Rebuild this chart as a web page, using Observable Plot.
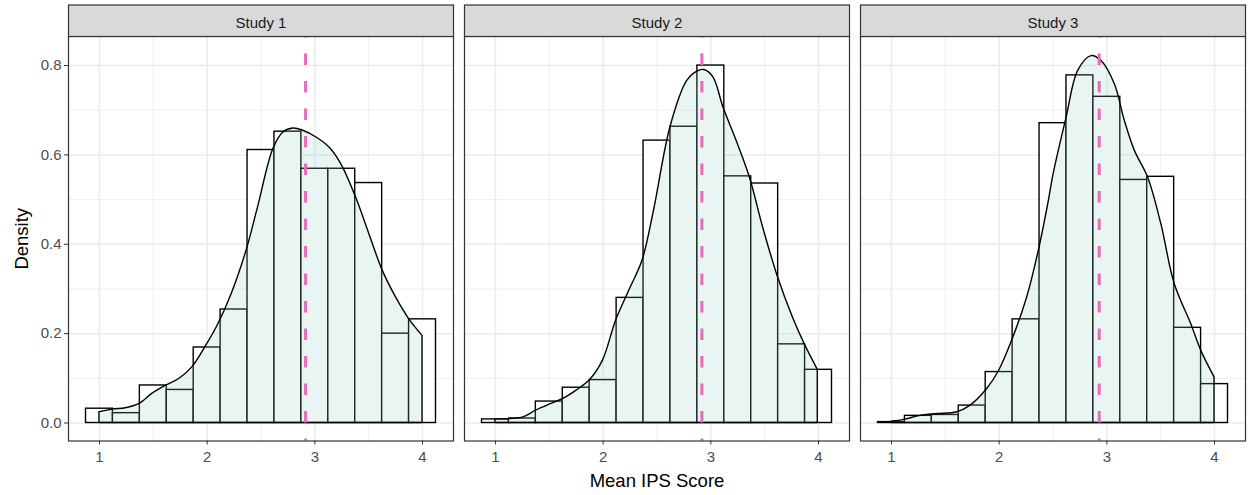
<!DOCTYPE html>
<html>
<head>
<meta charset="utf-8">
<script src="https://cdn.jsdelivr.net/npm/d3@7"></script>
<script src="https://cdn.jsdelivr.net/npm/@observablehq/plot@0.6"></script>
<style>
  html, body { margin: 0; padding: 0; background: #ffffff; }
  #chart { width: 1250px; height: 495px; }
</style>
</head>
<body>
<div id="chart"></div>
<script>
// ---- Data ----
const studies = ["Study 1", "Study 2", "Study 3"];
const binCenters = [1, 1.25, 1.5, 1.75, 2, 2.25, 2.5, 2.75, 3, 3.25, 3.5, 3.75, 4];
const binWidth = 0.25;

const histStudy1 = [0.032, 0.022, 0.084, 0.074, 0.169, 0.254, 0.611, 0.652, 0.569, 0.569, 0.537, 0.200, 0.232];
const histStudy2 = [0.008, 0.010, 0.048, 0.079, 0.096, 0.280, 0.632, 0.663, 0.800, 0.552, 0.536, 0.176, 0.119];
const histStudy3 = [0.002, 0.016, 0.018, 0.039, 0.114, 0.232, 0.671, 0.778, 0.730, 0.544, 0.551, 0.213, 0.087];

const densX1 = [1.0, 1.123, 1.245, 1.368, 1.49, 1.614, 1.736, 1.86, 1.982, 2.104, 2.227, 2.365, 2.472, 2.615, 2.708, 2.8, 2.892, 3.015, 3.138, 3.246, 3.384, 3.507, 3.63, 3.754, 3.877, 4.0];
const densY1 = [0.024, 0.030, 0.033, 0.042, 0.065, 0.083, 0.098, 0.124, 0.169, 0.221, 0.288, 0.385, 0.482, 0.613, 0.650, 0.659, 0.654, 0.639, 0.616, 0.579, 0.504, 0.422, 0.341, 0.281, 0.232, 0.195];

const densX2 = [1.0, 1.138, 1.26, 1.38, 1.5, 1.63, 1.75, 1.874, 1.997, 2.12, 2.242, 2.365, 2.472, 2.626, 2.779, 2.871, 2.94, 3.025, 3.117, 3.24, 3.363, 3.486, 3.624, 3.762, 3.87, 3.993];
const densY2 = [0.008, 0.009, 0.0127, 0.028, 0.041, 0.054, 0.072, 0.095, 0.139, 0.229, 0.296, 0.363, 0.475, 0.663, 0.765, 0.786, 0.790, 0.773, 0.706, 0.631, 0.549, 0.437, 0.326, 0.236, 0.177, 0.119];

const densX3 = [1.0, 1.118, 1.27, 1.426, 1.61, 1.735, 1.889, 2.0, 2.12, 2.26, 2.368, 2.456, 2.506, 2.626, 2.734, 2.857, 2.95, 3.074, 3.167, 3.26, 3.382, 3.506, 3.63, 3.784, 3.876, 4.0];
const densY3 = [0.003, 0.007, 0.016, 0.020, 0.024, 0.039, 0.076, 0.117, 0.184, 0.281, 0.385, 0.490, 0.557, 0.683, 0.788, 0.821, 0.810, 0.758, 0.676, 0.609, 0.550, 0.445, 0.311, 0.221, 0.162, 0.102];

const meanScores = [2.914, 2.917, 2.929];

const xTicks = [1, 2, 3, 4];
const xMinorTicks = [1.5, 2.5, 3.5];
const yTicks = [0, 0.2, 0.4, 0.6, 0.8];
const yMinorTicks = [0.1, 0.3, 0.5, 0.7];

const xTitle = "Mean IPS Score";
const yTitle = "Density";

// ---- Tables built from the arrays ----
const histAll = [histStudy1, histStudy2, histStudy3];
const densXAll = [densX1, densX2, densX3];
const densYAll = [densY1, densY2, densY3];

const bars = [];
studies.forEach((s, i) => binCenters.forEach((c, j) => bars.push({
  study: s, x1: c - binWidth / 2, x2: c + binWidth / 2, d: histAll[i][j]
})));
const dens = [];
studies.forEach((s, i) => densXAll[i].forEach((x, j) => dens.push({study: s, x, d: densYAll[i][j]})));
const means = studies.map((s, i) => ({study: s, m: meanScores[i]}));

const FONT = '"Liberation Sans", Arial, Helvetica, sans-serif';
const grid = "#ebebeb";
const dark = "#333333";

const plot = Plot.plot({
  width: 1250,
  height: 495,
  marginTop: 36,
  marginBottom: 54.5,
  marginLeft: 67.3,
  marginRight: 3.3,
  style: {fontFamily: FONT, fontSize: "15px", background: "#ffffff", overflow: "visible"},
  x: {domain: [0.7125, 4.2875], label: null},
  y: {domain: [-0.0403, 0.865], label: null},
  fx: {domain: studies, paddingInner: 0.027, paddingOuter: 0, label: null},
  marks: [
    Plot.gridX({ticks: xMinorTicks, stroke: grid, strokeOpacity: 1, strokeWidth: 0.8}),
    Plot.gridY({ticks: yMinorTicks, stroke: grid, strokeOpacity: 1, strokeWidth: 0.8}),
    Plot.gridX({ticks: xTicks, stroke: grid, strokeOpacity: 1, strokeWidth: 1.5}),
    Plot.gridY({ticks: yTicks, stroke: grid, strokeOpacity: 1, strokeWidth: 1.5}),
    Plot.rect(bars, {fx: "study", x1: "x1", x2: "x2", y1: 0, y2: "d",
      fill: "white", stroke: "black", strokeWidth: 1.4}),
    Plot.areaY(dens, {fx: "study", x: "x", y: "d", curve: "catmull-rom",
      fill: "#91cdbe", fillOpacity: 0.2, stroke: "black", strokeWidth: 1.4}),
    Plot.ruleX(means, {fx: "study", x: "m", stroke: "#e76bbd", strokeWidth: 3,
      strokeDasharray: "11.7,15.8", strokeDashoffset: 10.1}),
    Plot.frame({stroke: dark, strokeWidth: 1.2}),
    Plot.frame({fill: "#d9d9d9", stroke: dark, strokeWidth: 1.2, insetTop: -31.5, insetBottom: 404.5}),
    Plot.axisX({ticks: xTicks, tickFormat: "d", tickSize: 4, tickPadding: 6, fill: "#4d4d4d", stroke: dark, label: null, fontSize: 15}),
    Plot.axisY({ticks: yTicks, tickFormat: ".1f", tickSize: 4, tickPadding: 3, fill: "#4d4d4d", stroke: dark, label: null, fontSize: 15}),
    Plot.axisY({ticks: [], tickSize: 0, label: yTitle, labelAnchor: "center", labelArrow: "none",
      labelOffset: 54, fill: "black", fontSize: 18.5}),
    Plot.axisFx({anchor: "top", tickSize: 0, tickPadding: 9, label: null, fill: "#1a1a1a", fontSize: 15}),
    Plot.axisFx({anchor: "bottom", tickSize: 0, tickFormat: () => "", label: xTitle, labelAnchor: "center",
      labelArrow: "none", labelOffset: 46, fill: "black", fontSize: 18.5})
  ]
});
document.getElementById("chart").appendChild(plot);
</script>
</body>
</html>
